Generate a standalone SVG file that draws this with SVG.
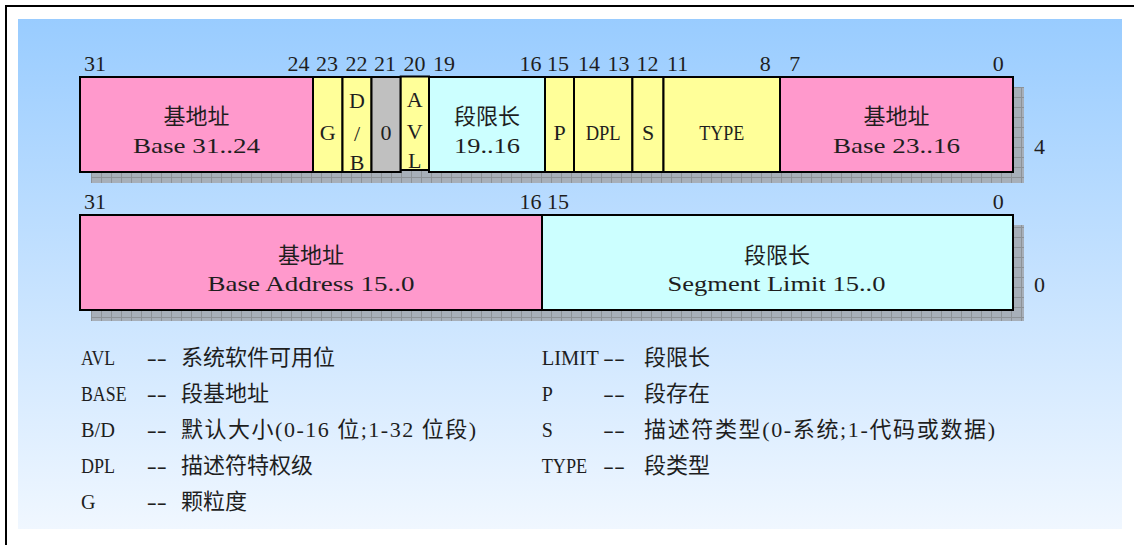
<svg xmlns="http://www.w3.org/2000/svg" width="1134" height="545" viewBox="0 0 1134 545">
  <defs>
    <linearGradient id="bg" x1="0" y1="0" x2="0" y2="1">
      <stop offset="0" stop-color="#99CCFF"/>
      <stop offset="1" stop-color="#F0F7FF"/>
    </linearGradient>
    <pattern id="grid" width="10" height="10" patternUnits="userSpaceOnUse" x="91" y="87">
      <rect width="10" height="10" fill="#A7AFB9"/>
      <path d="M0 0.5H10M0.5 0V10" stroke="#8D9297" stroke-width="1" fill="none"/>
    </pattern>
    <style>
      .f { stroke: #000; stroke-width: 2; }
      .pink { fill: #FF99CC; }
      .yel { fill: #FFFF99; }
      .cyan { fill: #CCFFFF; }
      .grey { fill: #C0C0C0; }
      .shadow { fill: url(#grid); }
      text { fill: #1E1E1E; }
      .num { font-size: 22px; }
      .lat { font-size: 22px; text-anchor: middle; }
      .cjk { font-size: 22px; text-anchor: middle; }
      .lbl { font-size: 20px; }
      .desc { font-size: 22px; }
    </style>
  </defs>

  <!-- frame and background -->
  <rect x="6" y="6" width="1200" height="600" fill="#FFFFFF" stroke="#000" stroke-width="2"/>
  <rect x="18" y="19" width="1104" height="510" fill="url(#bg)"/>

  <!-- shadows -->
  <rect class="shadow" x="91" y="87" width="933" height="96"/>
  <rect class="shadow" x="91" y="225" width="933" height="96"/>

  <g font-family="Liberation Serif, DejaVu Serif, serif">
  <!-- row 1 bit numbers -->
  <g id="bits-row1" class="num">
    <text x="84" y="70.5">31</text>
    <text x="287.5" y="70.5">24</text>
    <text x="316" y="70.5">23</text>
    <text x="345.4" y="70.5">22</text>
    <text x="374" y="70.5">21</text>
    <text x="403.6" y="70.5">20</text>
    <text x="433" y="70.5">19</text>
    <text x="519.6" y="70.5">16</text>
    <text x="547" y="70.5">15</text>
    <text x="578" y="70.5">14</text>
    <text x="607.4" y="70.5">13</text>
    <text x="636.6" y="70.5">12</text>
    <text x="667" y="70.5">11</text>
    <text x="759.7" y="70.5">8</text>
    <text x="789.2" y="70.5">7</text>
    <text x="992.7" y="70.5">0</text>
    <text x="1034" y="154">4</text>
  </g>

  <!-- row 1 fields -->
  <g id="base-31-24">
    <rect class="f pink" x="80" y="77" width="233" height="95"/>
    <text class="cjk" x="196.5" y="123.5" font-family="Noto Sans CJK SC, sans-serif">基地址</text>
    <text class="lat" x="196.5" y="153" textLength="127" lengthAdjust="spacingAndGlyphs">Base 31..24</text>
  </g>
  <g id="g-bit">
    <rect class="f yel" x="313" y="77" width="29.5" height="95"/>
    <text class="lat" x="327.7" y="139.5">G</text>
  </g>
  <g id="db-bit">
    <rect class="f yel" x="342.5" y="77" width="29" height="95"/>
    <text class="lat" x="357" y="108">D</text>
    <text class="lat" x="357" y="141">/</text>
    <text class="lat" x="357" y="170">B</text>
  </g>
  <g id="zero-bit">
    <rect class="f grey" x="371.5" y="77" width="29.2" height="95"/>
    <text class="lat" x="386.1" y="139.5">0</text>
  </g>
  <g id="avl-bit">
    <rect class="f yel" x="400.7" y="76.5" width="28.3" height="93.5"/>
    <text class="lat" x="414.8" y="106.7">A</text>
    <text class="lat" x="414.8" y="139.3">V</text>
    <text class="lat" x="414.8" y="168.3">L</text>
  </g>
  <g id="limit-19-16">
    <rect class="f cyan" x="429" y="77" width="116" height="95"/>
    <text class="cjk" x="487" y="123.5" font-family="Noto Sans CJK SC, sans-serif">段限长</text>
    <text class="lat" x="487" y="153" textLength="66" lengthAdjust="spacingAndGlyphs">19..16</text>
  </g>
  <g id="p-bit">
    <rect class="f yel" x="545" y="77" width="29" height="95"/>
    <text class="lat" x="559.5" y="139.5">P</text>
  </g>
  <g id="dpl-field">
    <rect class="f yel" x="574" y="77" width="58.4" height="95"/>
    <text class="lat" x="603.2" y="139.5" textLength="35" lengthAdjust="spacingAndGlyphs">DPL</text>
  </g>
  <g id="s-bit">
    <rect class="f yel" x="632.4" y="77" width="31.1" height="95"/>
    <text class="lat" x="648" y="139.5">S</text>
  </g>
  <g id="type-field">
    <rect class="f yel" x="663.5" y="77" width="116.5" height="95"/>
    <text class="lat" x="721.7" y="139.5" textLength="45" lengthAdjust="spacingAndGlyphs">TYPE</text>
  </g>
  <g id="base-23-16">
    <rect class="f pink" x="780" y="77" width="233" height="95"/>
    <text class="cjk" x="896.5" y="123.5" font-family="Noto Sans CJK SC, sans-serif">基地址</text>
    <text class="lat" x="896.5" y="153" textLength="127" lengthAdjust="spacingAndGlyphs">Base 23..16</text>
  </g>

  <!-- row 2 bit numbers -->
  <g id="bits-row2" class="num">
    <text x="84" y="209">31</text>
    <text x="519.6" y="209">16</text>
    <text x="547" y="209">15</text>
    <text x="992.7" y="209">0</text>
    <text x="1034" y="292">0</text>
  </g>

  <!-- row 2 fields -->
  <g id="base-15-0">
    <rect class="f pink" x="80" y="215" width="462" height="95"/>
    <text class="cjk" x="311" y="263" font-family="Noto Sans CJK SC, sans-serif">基地址</text>
    <text class="lat" x="311" y="291" textLength="207" lengthAdjust="spacingAndGlyphs">Base Address 15..0</text>
  </g>
  <g id="limit-15-0">
    <rect class="f cyan" x="542" y="215" width="471" height="95"/>
    <text class="cjk" x="777" y="263" font-family="Noto Sans CJK SC, sans-serif">段限长</text>
    <text class="lat" x="776.5" y="291" textLength="218" lengthAdjust="spacingAndGlyphs">Segment Limit 15..0</text>
  </g>

  <!-- legend -->
  <g id="legend-left">
    <text class="lbl" x="81" y="364.5" textLength="34" lengthAdjust="spacingAndGlyphs">AVL</text>
    <text class="lbl" x="146.7" y="364.5" textLength="20" lengthAdjust="spacingAndGlyphs">--</text>
    <text class="desc" x="181" y="365" font-family="Liberation Serif, Noto Sans CJK SC, serif">系统软件可用位</text>

    <text class="lbl" x="81" y="400.5" textLength="45.5" lengthAdjust="spacingAndGlyphs">BASE</text>
    <text class="lbl" x="146.7" y="400.5" textLength="20" lengthAdjust="spacingAndGlyphs">--</text>
    <text class="desc" x="181" y="401" font-family="Liberation Serif, Noto Sans CJK SC, serif">段基地址</text>

    <text class="lbl" x="81" y="436.5" textLength="34" lengthAdjust="spacingAndGlyphs">B/D</text>
    <text class="lbl" x="146.7" y="436.5" textLength="20" lengthAdjust="spacingAndGlyphs">--</text>
    <text class="desc" x="181" y="437" textLength="295" lengthAdjust="spacing" font-family="Liberation Serif, Noto Sans CJK SC, serif">默认大小(0-16 位;1-32 位段)</text>

    <text class="lbl" x="81" y="472.5" textLength="34" lengthAdjust="spacingAndGlyphs">DPL</text>
    <text class="lbl" x="146.7" y="472.5" textLength="20" lengthAdjust="spacingAndGlyphs">--</text>
    <text class="desc" x="181" y="473" font-family="Liberation Serif, Noto Sans CJK SC, serif">描述符特权级</text>

    <text class="lbl" x="81" y="508.5">G</text>
    <text class="lbl" x="146.7" y="508.5" textLength="20" lengthAdjust="spacingAndGlyphs">--</text>
    <text class="desc" x="181" y="509" font-family="Liberation Serif, Noto Sans CJK SC, serif">颗粒度</text>
  </g>
  <g id="legend-right">
    <text class="lbl" x="541.7" y="364.5" textLength="57" lengthAdjust="spacingAndGlyphs">LIMIT</text>
    <text class="lbl" x="603" y="364.5" textLength="22" lengthAdjust="spacingAndGlyphs">--</text>
    <text class="desc" x="644" y="365" font-family="Liberation Serif, Noto Sans CJK SC, serif">段限长</text>

    <text class="lbl" x="541.7" y="400.5">P</text>
    <text class="lbl" x="603" y="400.5" textLength="22" lengthAdjust="spacingAndGlyphs">--</text>
    <text class="desc" x="644" y="401" font-family="Liberation Serif, Noto Sans CJK SC, serif">段存在</text>

    <text class="lbl" x="541.7" y="436.5">S</text>
    <text class="lbl" x="603" y="436.5" textLength="22" lengthAdjust="spacingAndGlyphs">--</text>
    <text class="desc" x="644" y="437" textLength="351" lengthAdjust="spacing" font-family="Liberation Serif, Noto Sans CJK SC, serif">描述符类型(0-系统;1-代码或数据)</text>

    <text class="lbl" x="541.7" y="472.5" textLength="45.5" lengthAdjust="spacingAndGlyphs">TYPE</text>
    <text class="lbl" x="603" y="472.5" textLength="22" lengthAdjust="spacingAndGlyphs">--</text>
    <text class="desc" x="644" y="473" font-family="Liberation Serif, Noto Sans CJK SC, serif">段类型</text>
  </g>
  </g>
</svg>
